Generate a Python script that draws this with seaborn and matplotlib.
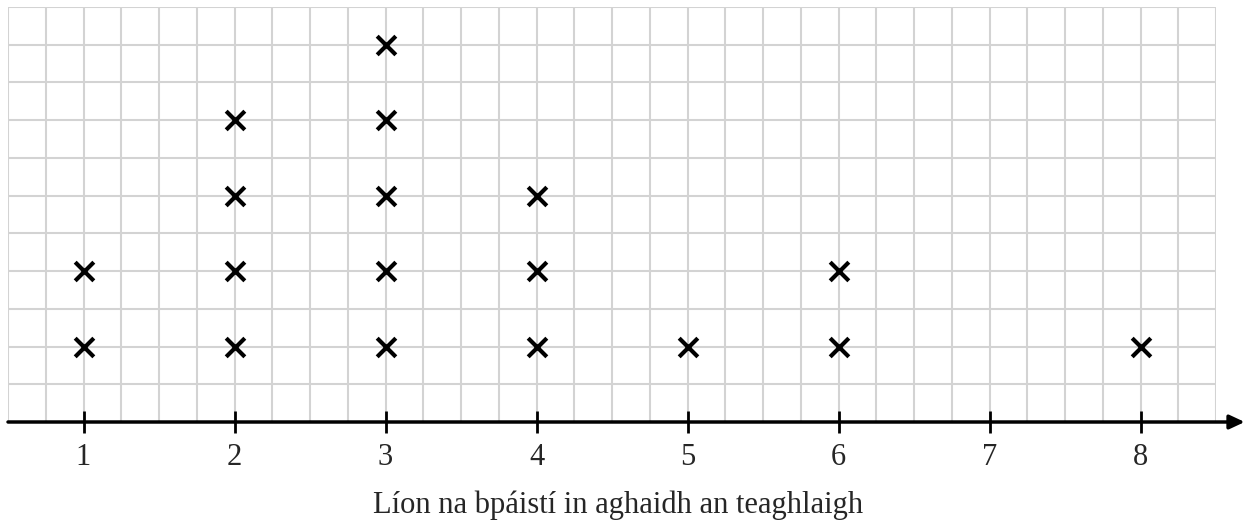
import numpy as np
import pandas as pd
import matplotlib
matplotlib.use("Agg")
import matplotlib.pyplot as plt
from matplotlib.ticker import MultipleLocator
import seaborn as sns

# Number of children per family and how many families have that many
children = [1, 2, 3, 4, 5, 6, 7, 8]
families = [2, 4, 5, 3, 1, 2, 0, 1]
tick_labels = ["1", "2", "3", "4", "5", "6", "7", "8"]
x_label = "Líon na bpáistí in aghaidh an teaghlaigh"

rows = []
for c, n in zip(children, families):
    for k in range(1, n + 1):
        rows.append({"children": c, "stack": k})
df = pd.DataFrame(rows)

sns.set_style("white")
plt.rcParams["font.family"] = ["Liberation Serif", "DejaVu Serif"]

W, H = 1247, 521
fig = plt.figure(figsize=(W / 100, H / 100), dpi=100)
left, right, top, bottom = 8, 1216, 7, 422
ax = fig.add_axes([left / W, (H - bottom) / H, (right - left) / W, (bottom - top) / H])

sns.scatterplot(data=df, x="children", y="stack", marker="x", s=180,
                color="black", linewidth=3, ax=ax, zorder=5, clip_on=False)

ax.set_xlim(0.5, 8.5)
ax.set_ylim(0, 5.5)
ax.xaxis.set_minor_locator(MultipleLocator(0.25))
ax.yaxis.set_major_locator(MultipleLocator(0.5))
ax.set_xticks(children)
ax.set_xticklabels(tick_labels, fontsize=22)
ax.set_yticklabels([])
ax.grid(True, which="both", color="#d3d3d3", linewidth=1.5)
ax.set_axisbelow(True)
ax.tick_params(axis="x", which="major", direction="inout", length=16,
               width=2, color="black", pad=7, bottom=True)
ax.tick_params(axis="x", which="minor", length=0)
ax.tick_params(axis="y", which="both", length=0, left=False)
for s in ["top", "right", "left", "bottom"]:
    ax.spines[s].set_visible(False)
ax.set_xlabel("")
ax.set_ylabel("")

# x-axis title, centred on the whole figure
fig.text(618 / W, (H - 513) / H, x_label, fontsize=22, ha="center", va="baseline")

# axis line with arrow
ax.annotate("", xy=(8.69, 0), xytext=(0.5, 0), xycoords="data",
            arrowprops=dict(arrowstyle="-|>,head_length=0.9,head_width=0.42",
                            color="black", lw=2.5, shrinkA=0, shrinkB=0),
            annotation_clip=False)

fig.savefig("out.png", dpi=100)
